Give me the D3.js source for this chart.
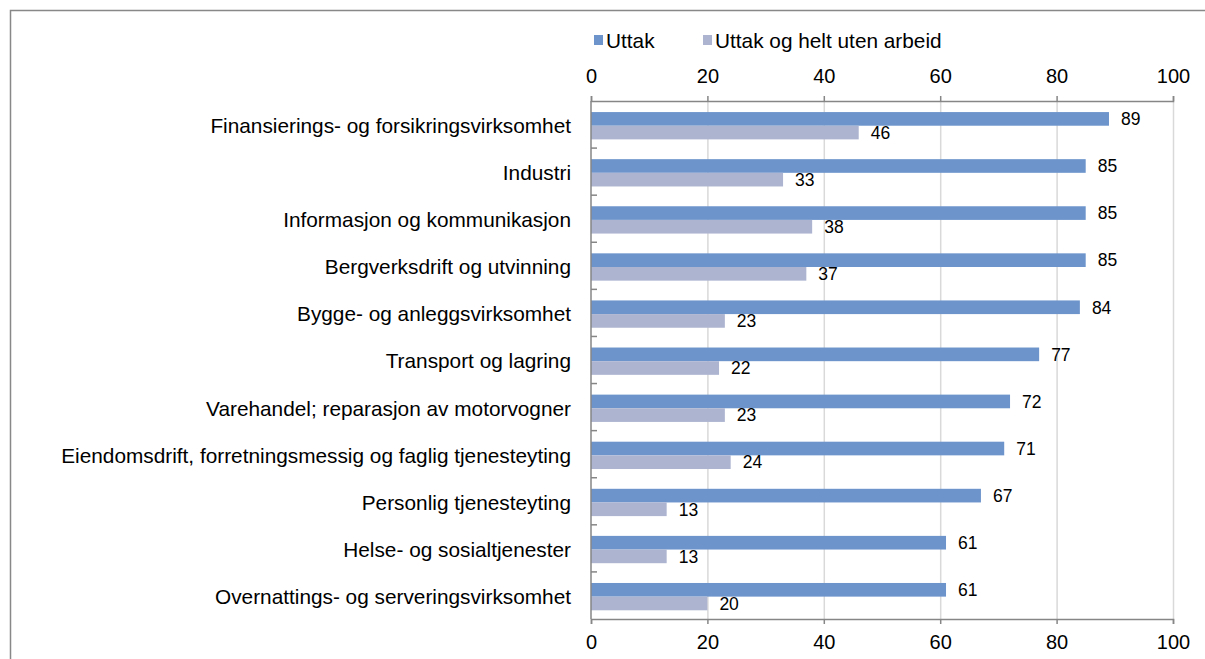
<!DOCTYPE html>
<html>
<head>
<meta charset="utf-8">
<script src="https://cdn.jsdelivr.net/npm/d3@7"></script>
<style>
    body { margin: 0; background: #FFFFFF; }
    text { font-family: "Liberation Sans", Arial, sans-serif; fill: #000000; }
</style>
</head>
<body>
<div id="chart"></div>
<script>
// Data
const categories = [
    "Finansierings- og forsikringsvirksomhet",
    "Industri",
    "Informasjon og kommunikasjon",
    "Bergverksdrift og utvinning",
    "Bygge- og anleggsvirksomhet",
    "Transport og lagring",
    "Varehandel; reparasjon av motorvogner",
    "Eiendomsdrift, forretningsmessig og faglig tjenesteyting",
    "Personlig tjenesteyting",
    "Helse- og sosialtjenester",
    "Overnattings- og serveringsvirksomhet"
];
const seriesNames = ["Uttak", "Uttak og helt uten arbeid"];
const uttak = [89, 85, 85, 85, 84, 77, 72, 71, 67, 61, 61];
const uttakUtenArbeid = [46, 33, 38, 37, 23, 22, 23, 24, 13, 13, 20];
const xTicks = [0, 20, 40, 60, 80, 100];

const colors = ["#6D95CC", "#ADB4D0"];
const width = 1205, height = 659;
const margin = { top: 101, left: 591 };
const plotRight = 1173, plotBottom = 619;

const data = categories.map((c, i) => ({
    category: c,
    values: [uttak[i], uttakUtenArbeid[i]]
}));

const svg = d3.select("#chart")
    .append("svg")
        .attr("width", width)
        .attr("height", height);

// Outer frame (runs off the right and bottom edges)
svg.append("path")
    .attr("d", `M10.5,${height + 5}V10.5H${width + 5}`)
    .attr("fill", "none")
    .attr("stroke", "#888888")
    .attr("stroke-width", 1.5);

// Scales
const xScale = d3.scaleLinear()
    .domain([0, 100])
    .range([margin.left, plotRight]);

const yScale = d3.scaleBand()
    .domain(categories)
    .range([margin.top, plotBottom]);

const ySub = d3.scaleBand()
    .domain(seriesNames)
    .range([yScale.bandwidth() * 0.235, yScale.bandwidth() * 0.815]);

// Gridlines
svg.append("g")
    .selectAll("line")
    .data(xTicks.filter(d => d > 0))
    .join("line")
        .attr("x1", d => xScale(d) + 0.5)
        .attr("x2", d => xScale(d) + 0.5)
        .attr("y1", margin.top)
        .attr("y2", plotBottom)
        .attr("stroke", "#D9D9D9")
        .attr("stroke-width", 1.5);

// Bars
const group = svg.append("g")
    .selectAll("g")
    .data(data)
    .join("g")
    .attr("transform", d => `translate(0, ${yScale(d.category)})`);

group.selectAll("rect")
    .data(d => d.values.map((v, i) => ({ name: seriesNames[i], value: v, i })))
    .join("rect")
        .attr("x", xScale(0))
        .attr("y", d => ySub(d.name))
        .attr("width", d => xScale(d.value) - xScale(0))
        .attr("height", ySub.bandwidth())
        .attr("fill", d => colors[d.i]);

// Value labels
group.selectAll("text")
    .data(d => d.values.map((v, i) => ({ name: seriesNames[i], value: v })))
    .join("text")
        .text(d => d.value)
        .attr("x", d => xScale(d.value) + 12)
        .attr("y", d => ySub(d.name) + ySub.bandwidth() / 2)
        .attr("dy", "0.36em")
        .style("font-size", "17.5px");

// Axes
const axisColor = "#868686";
const styleAxis = g => {
    g.select(".domain").attr("stroke", axisColor).attr("stroke-width", 1.5);
    g.selectAll(".tick line").attr("stroke", axisColor).attr("stroke-width", 1.5);
    g.selectAll(".tick text")
        .style("font-family", "'Liberation Sans', Arial, sans-serif")
        .style("font-size", "20px")
        .attr("fill", "#000000");
};

svg.append("g")
    .attr("transform", `translate(0, ${margin.top})`)
    .call(d3.axisTop(xScale).tickValues(xTicks).tickSize(5).tickSizeOuter(5).tickPadding(13))
    .call(styleAxis);

svg.append("g")
    .attr("transform", `translate(0, ${plotBottom})`)
    .call(d3.axisBottom(xScale).tickValues(xTicks).tickSize(5).tickSizeOuter(5).tickPadding(11))
    .call(styleAxis);

// Category axis
const yAxis = svg.append("g")
    .attr("transform", `translate(${margin.left}, 0)`);

yAxis.append("line")
    .attr("y1", margin.top)
    .attr("y2", plotBottom)
    .attr("stroke", axisColor)
    .attr("stroke-width", 1.5);

yAxis.selectAll(".ytick")
    .data(categories.slice(1))
    .join("line")
        .attr("class", "ytick")
        .attr("x1", 0)
        .attr("x2", 6)
        .attr("y1", d => yScale(d))
        .attr("y2", d => yScale(d))
        .attr("stroke", axisColor)
        .attr("stroke-width", 1.5);

yAxis.selectAll(".ylabel")
    .data(categories)
    .join("text")
        .attr("class", "ylabel")
        .text(d => d)
        .attr("x", -20)
        .attr("y", d => yScale(d) + yScale.bandwidth() / 2 + 1)
        .attr("dy", "0.36em")
        .attr("text-anchor", "end")
        .style("font-size", "20.8px");

// Legend
const legend = svg.append("g")
    .attr("transform", "translate(594, 40)");

const legendX = [0, 109];
const item = legend.selectAll("g")
    .data(seriesNames)
    .join("g")
    .attr("transform", (d, i) => `translate(${legendX[i]}, 0)`);

item.append("rect")
    .attr("x", 0)
    .attr("y", -5)
    .attr("width", 9)
    .attr("height", 10)
    .attr("fill", (d, i) => colors[i]);

item.append("text")
    .text(d => d)
    .attr("x", 12)
    .attr("y", 0)
    .attr("dy", "0.36em")
    .style("font-size", "20.8px");
</script>
</body>
</html>
